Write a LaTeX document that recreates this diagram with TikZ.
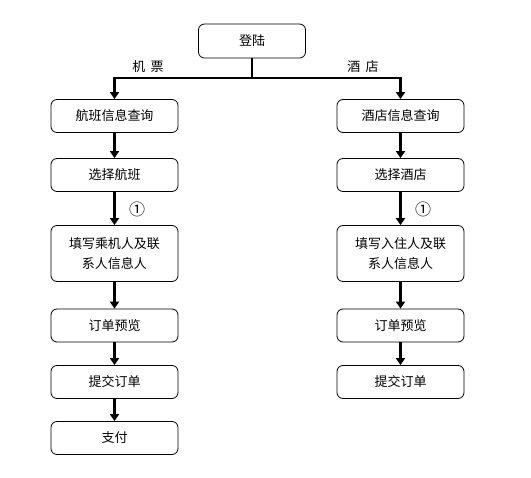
\documentclass[tikz,border=0pt]{standalone}
\usepackage{fontspec}
\setmainfont{Noto Sans CJK SC}
\usetikzlibrary{arrows.meta}
\begin{document}
\begin{tikzpicture}[x=1pt,y=-1pt,
  box/.style={draw=black,line width=0.8pt,rounded corners=6pt,minimum width=127pt,minimum height=33pt,inner sep=0pt,font=\fontsize{13}{19.5}\selectfont,align=center,fill=white},
  tallbox/.style={box,minimum height=56pt},
  conn/.style={line width=2.6pt},
  arr/.style={conn,-{Triangle[length=7pt,width=9pt]}},
  lbl/.style={font=\fontsize{13}{15}\selectfont,inner sep=0pt},
  circ/.style={font=\fontsize{16}{16}\selectfont,inner sep=0pt}]
\useasboundingbox (0,0) rectangle (531,478);
\fill[white] (0,0) rectangle (531,478);
\node[box,minimum width=107pt,minimum height=34pt] (dl) at (252,41) {登陆};
\node[box] (a1) at (114.5,116) {航班信息查询};
\node[box] (a2) at (114.5,175) {选择航班};
\node[tallbox] (a3) at (114.5,253.5) {填写乘机人及联\\系人信息人};
\node[box] (a4) at (114.5,325.5) {订单预览};
\node[box] (a5) at (114.5,382) {提交订单};
\node[box] (a6) at (114.5,438) {支付};
\node[box] (b1) at (400.5,116) {酒店信息查询};
\node[box] (b2) at (400.5,175) {选择酒店};
\node[tallbox] (b3) at (400.5,253.5) {填写入住人及联\\系人信息人};
\node[box] (b4) at (400.5,325.5) {订单预览};
\node[box] (b5) at (400.5,382) {提交订单};
\coordinate (j) at (252,78);
\draw[conn] (dl.south) -- (j);
\draw[arr] (j) -| (a1.north);
\draw[arr] (j) -| (b1.north);
\node[lbl] (lj) at (148,67) {机\hspace{0.4em}票};
\node[lbl] (lh) at (363,67) {酒\hspace{0.4em}店};
\draw[arr] (a1) -- (a2);
\draw[arr] (a2) -- (a3);
\draw[arr] (a3) -- (a4);
\draw[arr] (a4) -- (a5);
\draw[arr] (a5) -- (a6);
\draw[arr] (b1) -- (b2);
\draw[arr] (b2) -- (b3);
\draw[arr] (b3) -- (b4);
\draw[arr] (b4) -- (b5);
\node[circ] (c1) at (137,209) {①};
\node[circ] (c2) at (423,209) {①};
\end{tikzpicture}
\end{document}
